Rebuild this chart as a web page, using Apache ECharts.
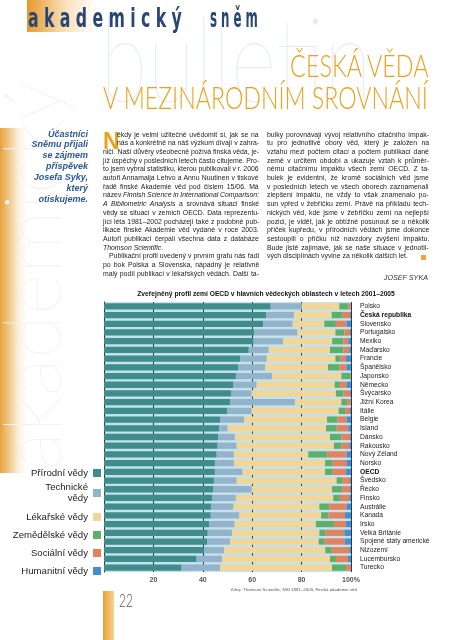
<!DOCTYPE html>
<html><head><meta charset="utf-8">
<script src="https://cdn.jsdelivr.net/npm/echarts@6/dist/echarts.min.js"></script>
<style>
html,body{margin:0;padding:0;background:#fff;}
#page{position:relative;width:453px;height:640px;overflow:hidden;background:#fff;font-family:"Liberation Sans",Arial,sans-serif;}
#chart{position:absolute;left:0;top:0;width:453px;height:640px;z-index:2;}
.abs{position:absolute;white-space:nowrap;}
.ln{position:absolute;white-space:nowrap;font-size:6.9px;line-height:8.7px;height:8.7px;color:#222;z-index:3;}
.side{position:absolute;right:365px;white-space:nowrap;font-size:9px;line-height:10.9px;font-weight:bold;font-style:italic;color:#2b5796;text-align:right;z-index:3;}
#err{position:absolute;left:0;top:620px;font-size:8px;color:red;z-index:9;}
</style></head>
<body><div id="page">
<div class="abs" style="left:0;top:128px;width:26px;height:345px;background:linear-gradient(to right,#e7a23c,rgba(247,222,180,0.5) 70%,rgba(255,255,255,0));z-index:0"></div>
<div class="abs" style="left:27px;top:0;width:70px;height:32px;background:linear-gradient(to right,#e69a2e,rgba(245,205,140,0.6) 55%,rgba(255,255,255,0));z-index:0"></div>
<div id="wm" class="abs" style="left:100px;top:-2px;font-family:Lato;font-weight:100;font-size:118px;line-height:118px;color:#e6ecf1;transform-origin:0 0;z-index:0">bulletin</div>
<div id="wm2" class="abs" style="left:-10px;top:470px;font-family:Lato;font-weight:100;font-size:80px;line-height:80px;color:#eef2f6;transform-origin:0 0;transform:rotate(-90deg);z-index:0">akademický</div>
<div id="h1" class="abs" style="left:28px;top:5px;font-family:'DejaVu Sans Condensed','DejaVu Sans';font-weight:bold;font-size:26px;line-height:26px;color:#2a4673;letter-spacing:8px;transform-origin:0 0;z-index:3">akademický</div>
<div id="h2" class="abs" style="left:210px;top:5px;font-family:'DejaVu Sans Condensed','DejaVu Sans';font-weight:bold;font-size:26px;line-height:26px;color:#2a4673;letter-spacing:8px;transform-origin:0 0;z-index:3">sněm</div>
<div id="t1" class="abs" style="right:25px;top:49px;font-family:Lato;font-weight:300;font-size:32px;line-height:32px;color:#eaa21e;transform-origin:100% 0;z-index:3">ČESKÁ VĚDA</div>
<div id="t2" class="abs" style="right:25px;top:81px;font-family:Lato;font-weight:300;font-size:32px;line-height:32px;color:#eaa21e;transform-origin:100% 0;z-index:3">V MEZINÁRODNÍM SROVNÁNÍ</div>
<div id="side"></div>
<div id="dropcap" class="abs" style="left:103px;top:129.5px;font-size:23px;line-height:23px;font-weight:bold;color:#eaa21e;z-index:3">N</div>
<div id="col1"></div><div id="col2"></div>
<div class="abs" style="left:421px;top:254.5px;width:5px;height:5px;background:#f0a53a;z-index:3"></div>
<div class="abs" style="right:25px;top:272.5px;font-size:7.2px;line-height:9px;font-style:italic;color:#333;z-index:3">JOSEF SYKA</div>
<div class="abs" style="left:103px;top:591px;width:11px;height:49px;background:linear-gradient(to right,#e9a03a,#f6d48e);z-index:3"></div>
<div class="abs" style="left:119px;top:592px;font-family:Lato;font-weight:300;font-size:17px;line-height:17px;color:#555;transform-origin:0 0;transform:scaleX(0.7);z-index:3">22</div>
<div id="chart"></div>
<div id="err"></div>
</div>
<script>
// ---------- data ----------
const categories = ['Polsko','Česká republika','Slovensko','Portugalsko','Mexiko','Maďarsko','Francie','Španělsko','Japonsko','Německo','Švýcarsko','Jižní Korea','Itálie','Belgie','Island','Dánsko','Rakousko','Nový Zéland','Norsko','OECD','Švédsko','Řecko','Finsko','Austrálie','Kanada','Irsko','Velká Británie','Spojené státy americké','Nizozemí','Lucembursko','Turecko'];
const seriesNames = ['Přírodní vědy','Technické vědy','Lékařské vědy','Zemědělské vědy','Sociální vědy','Humanitní vědy'];
const natural = [67.5,65.6,64.5,60.9,60.6,58.6,55.1,54.3,53.4,52.4,51.6,51.0,49.9,47.0,46.6,46.3,46.0,45.6,44.9,44.9,44.5,44.3,43.9,43.3,43.2,42.5,42.0,41.7,40.5,37.5,31.4];
const technical = [12.5,11.3,11.9,17.4,12.0,8.1,10.8,10.9,14.6,9.4,8.2,26.3,9.9,9.8,3.5,6.7,7.7,7.0,7.7,11.2,9.2,15.5,9.5,9.1,11.6,10.4,9.8,9.3,8.1,10.3,15.6];
const medical = [15.3,15.3,12.8,15.4,19.8,24.8,27.8,25.5,28.1,31.6,34.1,18.8,35.2,33.5,39.8,38.5,39.4,30.1,36.9,33.4,40.5,32.5,39.4,34.8,33.1,32.9,35.4,35.9,41.0,43.7,45.3];
const agricultural = [3.6,4.4,4.7,3.6,4.5,5.4,2.1,4.6,3.5,2.1,3.0,2.4,2.6,4.2,4.3,4.7,3.1,7.7,3.1,3.1,2.2,4.1,2.7,4.0,2.9,7.3,2.5,2.4,2.6,2.4,5.7];
const social = [1.0,3.0,4.3,2.3,2.0,2.4,2.2,2.9,0.3,2.7,2.7,1.4,2.0,3.7,4.7,3.4,3.1,7.8,5.6,5.4,3.2,3.2,3.8,7.0,6.8,4.9,7.6,8.3,7.1,4.9,1.9];
const humanities = [0.1,0.4,1.8,0.4,1.1,0.7,2.0,1.8,0.1,1.8,0.4,0.1,0.4,1.8,1.1,0.4,0.7,1.8,1.8,2.0,0.4,0.4,0.7,1.8,2.4,2.0,2.7,2.4,0.7,1.2,0.1];
const xTickLabels = {20:'20',40:'40',60:'60',80:'80',100:'100%'};
const chartTitle = 'Zveřejněný profil zemí OECD v hlavních vědeckých oblastech v letech 2001–2005';
const sourceText = 'Zdroj: Thomson Scientific, NSI 1981–2005, Finská akademie věd';

// ---------- article text ----------
const sideLines = ['Účastníci','Sněmu přijali','se zájmem','příspěvek','Josefa Syky,','který','otiskujeme.'];
const col1Lines = [
 ['ěkdy je velmi užitečné uvědomit si, jak se na',14,1],
 ['nás a konkrétně na náš výzkum dívají v zahra-',14,1],
 ['ničí. Naší důvěry všeobecně požívá finská věda, je-',0,1],
 ['jíž úspěchy v posledních letech často citujeme. Pro-',0,1],
 ['to jsem vybral statistiku, kterou publikovali v r. 2006',0,1],
 ['autoři Annamaija Lehvo a Annu Nuutinen v tiskové',0,1],
 ['řadě finské Akademie věd pod číslem 15/06. Má',0,1],
 ['název <i>Finnish Science in International Comparison:</i>',0,1],
 ['<i>A Bibliometric Analysis</i> a srovnává situaci finské',0,1],
 ['vědy se situací v zemích OECD. Data reprezentu-',0,1],
 ['jící léta 1981–2002 pocházejí také z podobné pub-',0,1],
 ['likace finské Akademie věd vydané v roce 2003.',0,1],
 ['Autoři publikací čerpali všechna data z databáze',0,1],
 ['<i>Thomson Scientific</i>.',0,0],
 ['Publikační profil uvedený v prvním grafu nás řadí',6,1],
 ['po bok Polska a Slovenska, nápadný je relativně',0,1],
 ['malý podíl publikací v lékařských vědách. Další ta-',0,1]
];
const col2Lines = [
 ['bulky porovnávají vývoj relativního citačního impak-',0,1],
 ['tu pro jednotlivé obory věd, který je založen na',0,1],
 ['vztahu mezi počtem citací a počtem publikací dané',0,1],
 ['země v určitém období a ukazuje vztah k průměr-',0,1],
 ['nému citačnímu impaktu všech zemí OECD. Z ta-',0,1],
 ['bulek je evidentní, že kromě sociálních věd jsme',0,1],
 ['v posledních letech ve všech oborech zaznamenali',0,1],
 ['zlepšení impaktu, ne vždy to však znamenalo po-',0,1],
 ['sun vpřed v žebříčku zemí. Právě na příkladu tech-',0,1],
 ['nických věd, kde jsme v žebříčku zemí na nejlepší',0,1],
 ['pozici, je vidět, jak je obtížné posunout se o několik',0,1],
 ['příček kupředu, v přírodních vědách jsme dokonce',0,1],
 ['sestoupili o příčku níž navzdory zvýšení impaktu.',0,1],
 ['Bude jistě zajímavé, jak se naše situace v jednotli-',0,1],
 ['vých disciplínách vyvine za několik dalších let.',0,0]
];

function buildCol(id, lines, x0, w){
  const host=document.getElementById(id);
  lines.forEach(function(l,i){
    const d=document.createElement('div');
    d.className='ln';
    d.style.left=(x0+l[1])+'px';
    d.style.top=(135+8.69*i-4.35)+'px';
    d.innerHTML='<span>'+l[0]+'</span>';
    d.setAttribute('data-w',String(w-l[1]));
    d.setAttribute('data-j',String(l[2]));
    host.appendChild(d);
  });
}
function logErr(e){document.getElementById('err').textContent+=' '+e;}
try{
buildCol('col1',col1Lines,103,156);
buildCol('col2',col2Lines,267,162);
const sh=document.getElementById('side');
sideLines.forEach(function(t,i){const d=document.createElement('div');d.className='side';d.style.top=(134+10.9*i-5.45)+'px';d.textContent=t;sh.appendChild(d);});
}catch(e){logErr(e);}

function layoutText(){
  try{
  const lns=document.querySelectorAll('.ln');
  for(let k=0;k<lns.length;k++){
    const d=lns[k];
    d.style.wordSpacing='0px';
    if(d.getAttribute('data-j')!=='1') continue;
    const s=d.firstChild; const txt=s.textContent;
    const n=(txt.match(/ /g)||[]).length; if(!n) continue;
    const w=s.offsetWidth; const W=parseFloat(d.getAttribute('data-w'));
    d.style.wordSpacing=((W-w)/n)+'px';
  }
  function fitW(id,target,ls){
    const e=document.getElementById(id);
    e.style.transform='none';
    const w=e.offsetWidth-(ls||0);
    if(w>0) e.style.transform='scaleX('+(target/w)+')';
  }
  fitW('wm',272,0);
  fitW('h1',154,8);
  fitW('h2',48,8);
  fitW('t1',138,0);
  fitW('t2',325,0);
  }catch(e){logErr(e);}
}
layoutText();

// ---------- chart ----------
try{
const colors=['#3f8d8b','#92b3ca','#f2d698','#5daf69','#e2825f','#3f8fd6'];
const seriesData=[natural,technical,medical,agricultural,social,humanities];
const legendCenters=[473,493,517,535,553,571];
const legendHeights=[11,22,11,11,11,11];
const chart=echarts.init(document.getElementById('chart'),null,{renderer:'canvas'});
chart.setOption({
  animation:false,
  color:colors,
  textStyle:{fontFamily:'"Liberation Sans", Arial, sans-serif'},
  grid:{left:104,top:302,width:247,height:270,show:true,backgroundColor:'#c3e2ee',borderWidth:0,containLabel:false},
  legend:seriesNames.map(function(n,i){return {
    data:[n], orient:'vertical', right:352, top:legendCenters[i]-legendHeights[i]/2,
    align:'right', itemWidth:8, itemHeight:8, itemGap:0, icon:'rect', padding:0,
    selectedMode:false,
    formatter:function(nm){return nm==='Technické vědy'?'Technické\nvědy':nm;},
    textStyle:{fontSize:9.6,color:'#222',lineHeight:11,align:'right',padding:[0,0,0,0]}
  };}),
  xAxis:{type:'value',min:0,max:100,interval:20,
    axisLine:{show:false},axisTick:{show:false},
    axisLabel:{margin:5,fontSize:7,color:'#555',fontWeight:'bold',formatter:function(v){return xTickLabels[v]||'';}},
    splitLine:{show:true,lineStyle:{color:'#2c3a48',width:1}}},
  yAxis:[
    {type:'category',data:categories,inverse:true,position:'left',
     axisLine:{show:true,lineStyle:{color:'#2b2b2b',width:1}},axisTick:{show:false},axisLabel:{show:false}},
    {type:'category',data:categories,inverse:true,position:'right',
     axisLine:{show:false},axisTick:{show:false},
     axisLabel:{interval:0,margin:9,align:'left',fontSize:6.7,color:'#222',
       formatter:function(v){return (v==='Česká republika'||v==='OECD')?'{b|'+v+'}':v;},
       rich:{b:{fontWeight:'bold',fontSize:6.7,color:'#111'}}}}
  ],
  series:seriesNames.map(function(n,i){return {
    name:n,type:'bar',stack:'total',xAxisIndex:0,yAxisIndex:0,
    data:seriesData[i],barCategoryGap:'28%',itemStyle:{color:colors[i]}
  };}),
  graphic:[
    {type:'text',x:266,y:294,style:{text:chartTitle,fontSize:6.7,fontWeight:'bold',fontFamily:'"Liberation Sans", Arial',fill:'#111',align:'center',verticalAlign:'middle'}},
    {type:'text',x:357,y:590,style:{text:sourceText,fontSize:4.4,fontFamily:'"Liberation Sans", Arial',fill:'#555',align:'right',verticalAlign:'middle'}}
  ]
});
}catch(e){logErr(e);}
if(document.fonts&&document.fonts.ready){document.fonts.ready.then(layoutText);}
</script>
</body></html>
